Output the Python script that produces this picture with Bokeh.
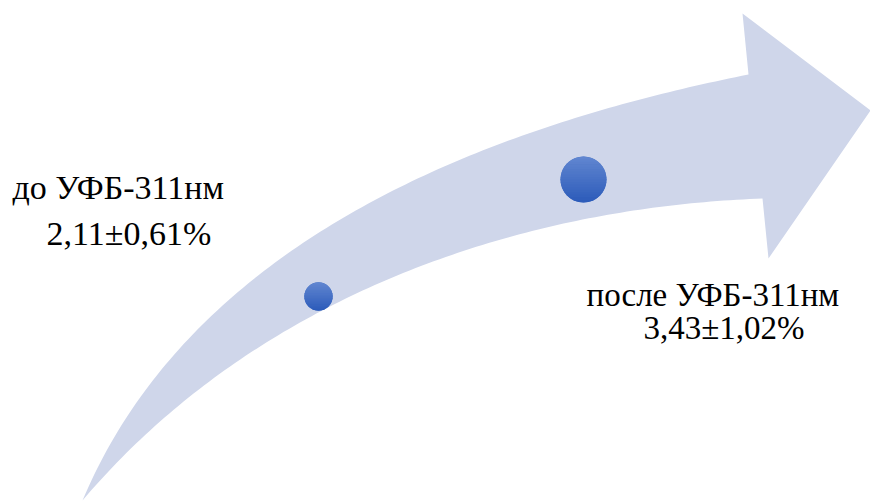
import numpy as np
from bokeh.plotting import figure
from bokeh.models import Range1d, Label
from bokeh.embed import file_html
from bokeh.resources import INLINE

# ---- data ----
stages = ["до УФБ-311нм", "после УФБ-311нм"]
means = [2.11, 3.43]
sds = [0.61, 1.02]

W, H = 870, 503
p = figure(width=W, height=H, x_range=Range1d(0, W), y_range=Range1d(H, 0),
           output_backend="svg", toolbar_location=None, min_border=0)
p.axis.visible = False
p.grid.visible = False
p.outline_line_color = None


def bezier_fit(pts, n=120):
    """Least-squares cubic Bezier through fixed end points (smooth edge)."""
    pts = np.asarray(pts, float)
    d = np.r_[0, np.cumsum(np.hypot(*np.diff(pts, axis=0).T))]
    t = d / d[-1]
    P0, P3 = pts[0], pts[-1]
    b0 = (1 - t) ** 3
    b1 = 3 * (1 - t) ** 2 * t
    b2 = 3 * (1 - t) * t ** 2
    b3 = t ** 3
    A = np.c_[b1, b2]
    rhs = pts - np.outer(b0, P0) - np.outer(b3, P3)
    sol, *_ = np.linalg.lstsq(A, rhs, rcond=None)
    P1, P2 = sol
    s = np.linspace(0, 1, n)[:, None]
    return ((1 - s) ** 3) * P0 + 3 * ((1 - s) ** 2) * s * P1 + 3 * (1 - s) * s ** 2 * P2 + s ** 3 * P3


# decorative curved arrow (shape geometry)
upper = bezier_fit([(82, 500), (110, 440), (150, 380), (200, 325), (250, 283), (290, 250),
                    (400, 190), (500, 141), (567, 120), (633, 100), (700, 85), (748, 74)])
lower = bezier_fit([(82, 500), (157, 440), (200, 385), (250, 350), (300, 316), (400, 273),
                    (500, 240), (630, 213), (700, 203), (762, 198)])
head = np.array([(742, 13), (870, 110), (768, 258)])
poly = np.vstack([upper, head, lower[::-1]])
p.patch(poly[:, 0], poly[:, 1], fill_color="#cfd6ea", line_color=None)

# circles sized by mean value, with a vertical gradient
centers = [(318, 296), (583, 179)]
top_c = np.array([0x62, 0x87, 0xd1])
bot_c = np.array([0x2c, 0x5b, 0xba])
for (cx, cy), m in zip(centers, means):
    r = 6.7 * m
    p.scatter([cx], [cy], size=2 * r, fill_color="#4472c4", line_color=None)
    N = 18
    edges = np.linspace(cy - r, cy + r, N + 1)
    xs_l, ys_l, cols = [], [], []
    for k in range(N):
        y0, y1 = edges[k], min(edges[k + 1] + 0.6, cy + r)
        yy = np.linspace(y0, y1, 6)
        hw = np.sqrt(np.clip(r * r - (yy - cy) ** 2, 0, None))
        xs_l.append(list(cx - hw) + list((cx + hw)[::-1]))
        ys_l.append(list(yy) + list(yy[::-1]))
        f = (k + 0.5) / N
        c = (top_c * (1 - f) + bot_c * f).astype(int)
        cols.append("#%02x%02x%02x" % tuple(c))
    p.patches(xs_l, ys_l, fill_color=cols, line_color=None)

fmt = [f"{m:.2f}±{s:.2f}%".replace(".", ",") for m, s in zip(means, sds)]

for x, y, t, fs in [(12, 205, stages[0], "34px"), (46, 251, fmt[0], "34px"),
                    (586, 312, stages[1], "33px"), (643, 345, fmt[1], "33px")]:
    p.add_layout(Label(x=x, y=y, text=t, text_font="Liberation Serif",
                       text_font_size=fs, text_color="black"))

open("out.html", "w").write(file_html(p, INLINE))
